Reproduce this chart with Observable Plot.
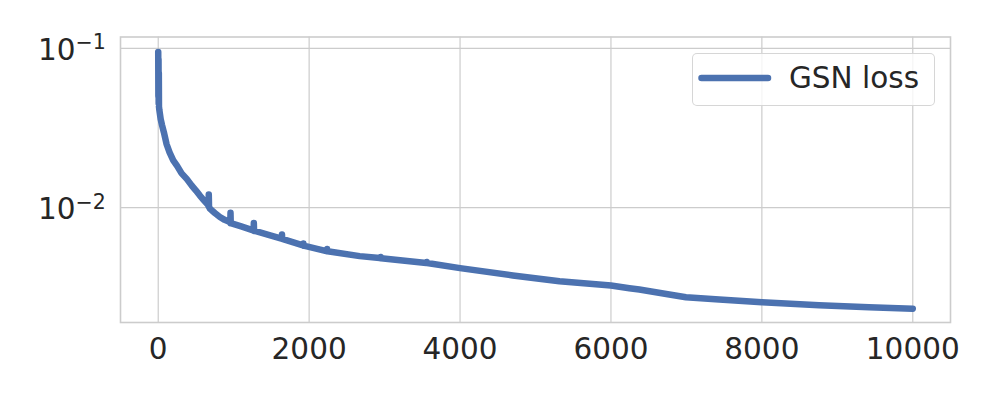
<!DOCTYPE html>
<html>
<head>
<meta charset="utf-8">
<script src="https://cdn.jsdelivr.net/npm/d3@7"></script>
<script src="https://cdn.jsdelivr.net/npm/@observablehq/plot@0.6"></script>
<style>
  body { margin: 0; background: #fff; }
  #wrap { position: relative; width: 1000px; height: 400px; font-family: "DejaVu Sans", sans-serif; color: #262626; }
  #legend { position: absolute; left: 692px; top: 53px; width: 243px; height: 53px; box-sizing: border-box;
            border: 1px solid rgba(204,204,204,0.8); border-radius: 5px; background: rgba(255,255,255,0.8); }
  #legend svg { position: absolute; left: -1px; top: -1px; overflow: visible; }
</style>
</head>
<body>
<div id="wrap"></div>
<script>
// ---- data ----
const iterations = [0, 2, 4, 6, 8, 10, 15, 32, 50, 75, 111, 150, 199, 250, 310, 380, 442, 500, 552, 600, 660, 667, 670, 673, 684, 750, 817, 880, 949, 955, 958, 961, 1100, 1258, 1264, 1267, 1270, 1450, 1633, 1637, 1640, 1643, 1919, 1922, 1925, 1928, 2229, 2237, 2240, 2243, 2670, 2935, 2947, 2950, 2953, 3553, 3557, 3560, 3563, 4000, 4700, 5318, 6000, 6244, 6376, 6773, 6994, 7435, 8000, 8759, 9420, 10000];
const loss = [0.095, 0.05, 0.085, 0.045, 0.07, 0.043, 0.041, 0.036, 0.0330, 0.0297, 0.0250, 0.0222, 0.0198, 0.0183, 0.0164, 0.0151, 0.0138, 0.0128, 0.0119, 0.0112, 0.0104, 0.0102, 0.0121, 0.0102, 0.00986, 0.00925, 0.00873, 0.00838, 0.00811, 0.0080, 0.00927, 0.0080, 0.00762, 0.00719, 0.00716, 0.00802, 0.00716, 0.00676, 0.00638, 0.00637, 0.00679, 0.00637, 0.00579, 0.00578, 0.00596, 0.00578, 0.00533, 0.00532, 0.0055, 0.00532, 0.00496, 0.00482, 0.00481, 0.0049, 0.00481, 0.00449, 0.00449, 0.00456, 0.00449, 0.00417, 0.00375, 0.00345, 0.00324, 0.00312, 0.00306, 0.00285, 0.00274, 0.00265, 0.00255, 0.00244, 0.00237, 0.00232];
const seriesName = "GSN loss";
const xTicks = [0, 2000, 4000, 6000, 8000, 10000];
const yTickValues = [0.1, 0.01];
const yTickExponents = ["\u22121", "\u22122"];

const data = iterations.map((it, i) => ({it, loss: loss[i]}));
const yLabels = yTickValues.map((v, i) => ({v, e: yTickExponents[i]}));

const blue = "#4c72b0";
const ink = "#262626";
const fs = 29.5;
const lw = 6.5;

const chart = Plot.plot({
  width: 1000,
  height: 400,
  marginLeft: 120,
  marginRight: 50,
  marginTop: 36.5,
  marginBottom: 78,
  style: {fontFamily: "DejaVu Sans", color: ink, background: "white", overflow: "visible"},
  x: {domain: [-500, 10500], label: null},
  y: {type: "log", domain: [0.0019, 0.1178], axis: null, label: null},
  marks: [
    Plot.gridX(xTicks, {stroke: "#cccccc", strokeOpacity: 1, strokeWidth: 1.2}),
    Plot.gridY(yTickValues, {stroke: "#cccccc", strokeOpacity: 1, strokeWidth: 1.2}),
    Plot.frame({stroke: "#cccccc", strokeWidth: 1.6}),
    Plot.line(data, {x: "it", y: "loss", stroke: blue, strokeWidth: lw, strokeLinecap: "round", strokeLinejoin: "round"}),
    Plot.axisX(xTicks, {tickSize: 0, tickPadding: 15.3, fontSize: fs, fill: ink, label: null, tickFormat: d => String(d)}),
    Plot.text(yLabels, {y: "v", text: () => "10", frameAnchor: "left", textAnchor: "end", lineAnchor: "bottom", dx: -45, dy: 11.7, fontSize: fs, fill: ink}),
    Plot.text(yLabels, {y: "v", text: "e", frameAnchor: "left", textAnchor: "start", lineAnchor: "bottom", dx: -45, dy: 1, fontSize: 20.5, fill: ink})
  ]
});

const wrap = document.getElementById("wrap");
wrap.appendChild(chart);

// legend (matplotlib-style box inside the axes)
const legend = document.createElement("div");
legend.id = "legend";
legend.innerHTML =
  `<svg width="243" height="53">
     <line x1="9.5" x2="76" y1="25" y2="25" stroke="${blue}" stroke-width="${lw}" stroke-linecap="round"/>
     <text x="97" y="34.5" font-family="DejaVu Sans" font-size="${fs}" fill="${ink}">${seriesName}</text>
   </svg>`;
wrap.appendChild(legend);
</script>
</body>
</html>
